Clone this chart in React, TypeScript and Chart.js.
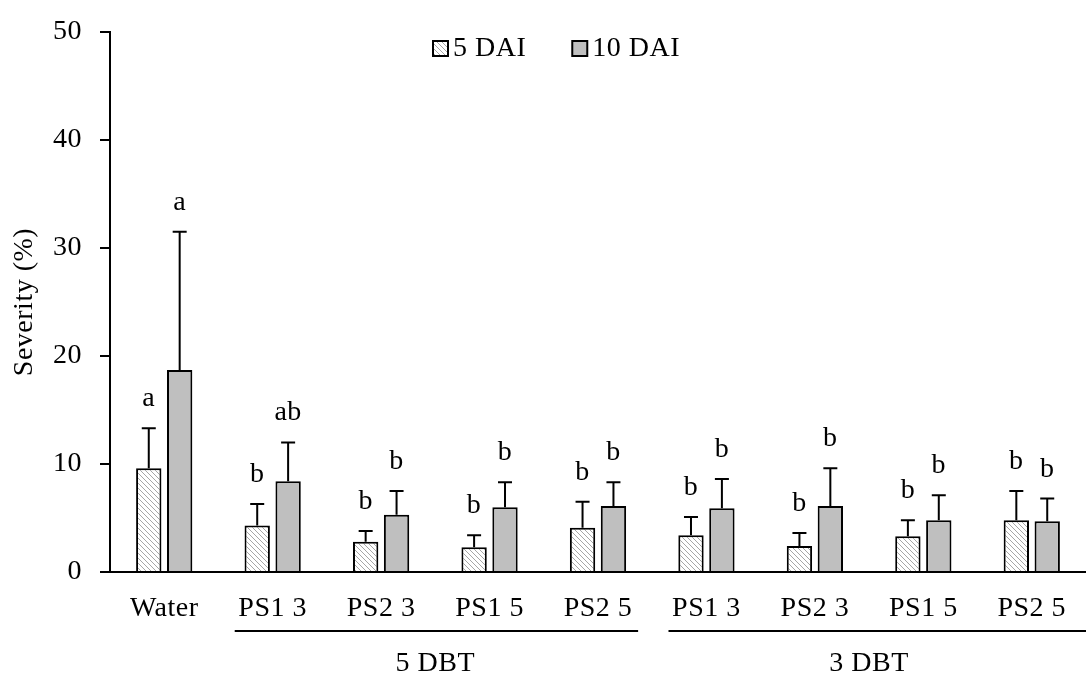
import React, { useEffect, useRef } from "react";
import { Chart, registerables } from "chart.js";

Chart.register(...registerables);

const categories = ["Water", "PS1 3", "PS2 3", "PS1 5", "PS2 5", "PS1 3", "PS2 3", "PS1 5", "PS2 5"];
const series5DAI = [9.6, 4.3, 2.8, 2.3, 4.1, 3.4, 2.4, 3.3, 4.8];
const series10DAI = [18.7, 8.4, 5.3, 6.0, 6.1, 5.9, 6.1, 4.8, 4.7];
const err5DAI = [3.7, 2.0, 1.0, 1.1, 2.4, 1.7, 1.2, 1.5, 2.7];
const err10DAI = [12.8, 3.6, 2.2, 2.3, 2.2, 2.7, 3.5, 2.3, 2.1];
const letters5DAI = ["a", "b", "b", "b", "b", "b", "b", "b", "b"];
const letters10DAI = ["a", "ab", "b", "b", "b", "b", "b", "b", "b"];
const groups = [
  { label: "5 DBT", from: 1, to: 4 },
  { label: "3 DBT", from: 5, to: 8 },
];
const seriesNames = ["5 DAI", "10 DAI"];
const yTicks = [0, 10, 20, 30, 40, 50];

const FONT = '"Liberation Serif", "Times New Roman", serif';
const FS = 28;
const LS = "0.5px";

function makeHatch(): CanvasPattern | string {
  const c = document.createElement("canvas");
  c.width = 5;
  c.height = 5;
  const g = c.getContext("2d");
  if (!g) return "#fff";
  g.fillStyle = "#ffffff";
  g.fillRect(0, 0, 5, 5);
  g.strokeStyle = "#a6a6a6";
  g.lineWidth = 1;
  g.beginPath();
  g.moveTo(-1, -1);
  g.lineTo(6, 6);
  g.moveTo(-1, 4);
  g.lineTo(1, 6);
  g.moveTo(4, -1);
  g.lineTo(6, 1);
  g.stroke();
  const p = g.createPattern(c, "repeat");
  return p || "#fff";
}

export default function App() {
  const ref = useRef<HTMLCanvasElement>(null);
  useEffect(() => {
    document.body.style.margin = "0";
    const canvas = ref.current;
    if (!canvas) return;
    const hatch = makeHatch();
    const errs = [err5DAI, err10DAI];
    const lets = [letters5DAI, letters10DAI];

    const spacing = {
      id: "spacing",
      beforeDraw(chart: any) {
        chart.ctx.letterSpacing = LS;
      },
    };

    const overlay = {
      id: "overlay",
      afterDatasetsDraw(chart: any) {
        const ctx = chart.ctx;
        const y = chart.scales.y;
        const x = chart.scales.x;
        ctx.save();
        ctx.letterSpacing = LS;
        // error bars and letters
        chart.data.datasets.forEach((ds: any, di: number) => {
          const meta = chart.getDatasetMeta(di);
          meta.data.forEach((bar: any, i: number) => {
            const v = ds.data[i];
            const top = y.getPixelForValue(v + errs[di][i]);
            const base = y.getPixelForValue(v);
            ctx.strokeStyle = "#000";
            ctx.lineWidth = 2;
            ctx.beginPath();
            ctx.moveTo(bar.x, base);
            ctx.lineTo(bar.x, top);
            ctx.moveTo(bar.x - 7, top);
            ctx.lineTo(bar.x + 7, top);
            ctx.stroke();
            ctx.fillStyle = "#000";
            ctx.font = `${FS}px ${FONT}`;
            ctx.textAlign = "center";
            ctx.textBaseline = "alphabetic";
            ctx.fillText(lets[di][i], bar.x, top - 22);
          });
        });
        // legend
        const items = [
          { text: seriesNames[0], fill: hatch },
          { text: seriesNames[1], fill: "#bfbfbf" },
        ];
        ctx.font = `${FS}px ${FONT}`;
        ctx.textAlign = "left";
        ctx.textBaseline = "middle";
        let lx = 433;
        const ly = 48;
        items.forEach((it) => {
          ctx.fillStyle = it.fill as any;
          ctx.fillRect(lx, ly - 7, 15, 15);
          ctx.strokeStyle = "#000";
          ctx.lineWidth = 2;
          ctx.strokeRect(lx, ly - 7, 15, 15);
          ctx.fillStyle = "#000";
          ctx.fillText(it.text, lx + 20, ly + 1);
          lx += 20 + ctx.measureText(it.text).width + 46;
        });
        // group underlines & labels
        const cw = x.getPixelForValue(1) - x.getPixelForValue(0);
        groups.forEach((g, gi) => {
          const x0 = x.getPixelForValue(g.from) - cw * 0.35;
          const x1 = gi === groups.length - 1 ? chart.chartArea.right : x.getPixelForValue(g.to) + cw * 0.37;
          ctx.strokeStyle = "#000";
          ctx.lineWidth = 2;
          ctx.beginPath();
          ctx.moveTo(x0, 631);
          ctx.lineTo(x1, 631);
          ctx.stroke();
          const cx = (x.getPixelForValue(g.from) + x.getPixelForValue(g.to)) / 2;
          ctx.fillStyle = "#000";
          ctx.textAlign = "center";
          ctx.textBaseline = "middle";
          ctx.fillText(g.label, cx, 664);
        });
        ctx.restore();
      },
    };

    const chart = new Chart(canvas, {
      type: "bar",
      data: {
        labels: categories,
        datasets: [
          {
            label: seriesNames[0],
            data: series5DAI,
            backgroundColor: hatch as any,
            borderColor: "#000",
            borderWidth: 2,
            categoryPercentage: 0.57,
            barPercentage: 0.82,
          },
          {
            label: seriesNames[1],
            data: series10DAI,
            backgroundColor: "#bfbfbf",
            borderColor: "#000",
            borderWidth: 2,
            categoryPercentage: 0.57,
            barPercentage: 0.82,
          },
        ],
      },
      options: {
        responsive: false,
        animation: false,
        layout: { padding: { top: 31, right: 0, left: 0, bottom: 0 } },
        plugins: {
          legend: { display: false },
          tooltip: { enabled: false },
        },
        scales: {
          x: {
            grid: { display: false },
            border: { display: true, color: "#000", width: 2 },
            ticks: { color: "#000", font: { family: FONT, size: FS }, padding: 12, maxRotation: 0, autoSkip: false },
            afterFit(scale: any) {
              scale.height = 108;
            },
          },
          y: {
            min: 0,
            max: 50,
            afterBuildTicks(scale: any) {
              scale.ticks = yTicks.map((v) => ({ value: v }));
            },
            grid: { drawOnChartArea: false, drawTicks: true, tickLength: 10, color: "#000", lineWidth: 2 },
            border: { display: true, color: "#000", width: 2 },
            ticks: { color: "#000", font: { family: FONT, size: FS, lineHeight: 1 }, padding: 18 },
            title: { display: true, text: "Severity (%)", color: "#000", font: { family: FONT, size: FS }, padding: { top: 8, bottom: 0 } },
            afterFit(scale: any) {
              scale.width = 110;
            },
          },
        },
      },
      plugins: [spacing, overlay],
    });
    return () => chart.destroy();
  }, []);
  return <canvas ref={ref} width={1086} height={680} style={{ display: "block" }} />;
}
